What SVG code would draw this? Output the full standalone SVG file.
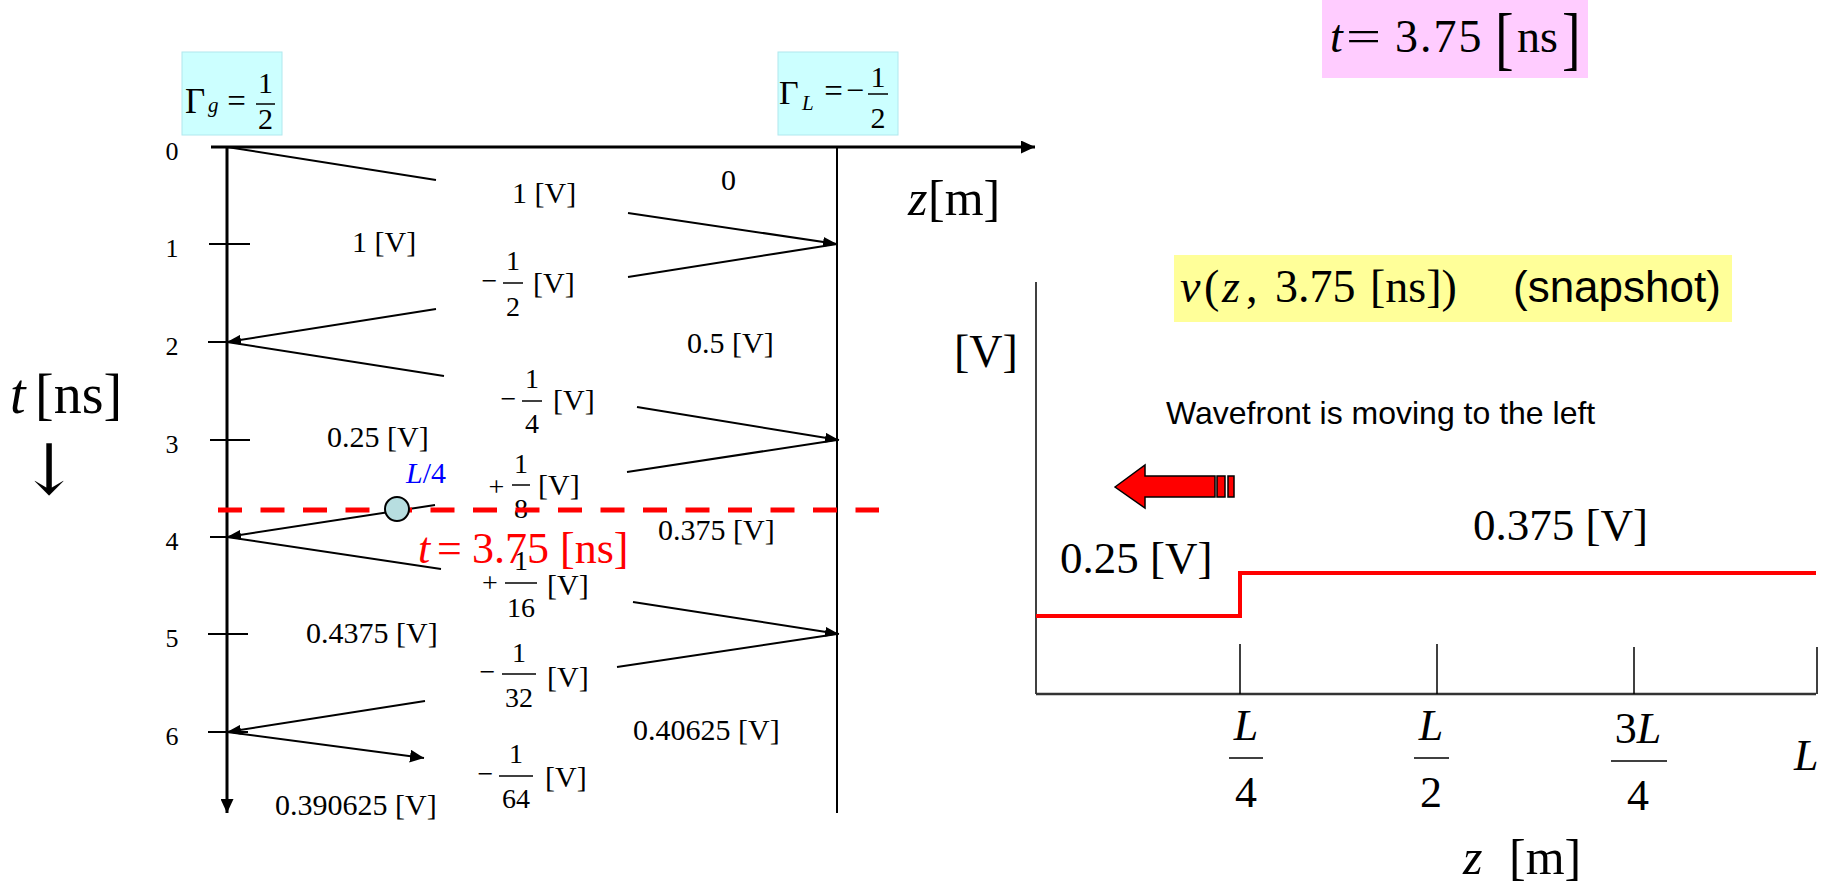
<svg xmlns="http://www.w3.org/2000/svg" width="1821" height="890" viewBox="0 0 1821 890">
<style>
.s{font-family:"Liberation Serif","Times New Roman",serif;fill:#000}
.i{font-style:italic}
.a{font-family:"Liberation Sans",Arial,sans-serif;fill:#000}
.v{font-size:30px}
.n{font-size:26px}
.f{font-size:28px}
.ln{stroke:#000;stroke-width:2;fill:none}
.ax{stroke:#000;stroke-width:3;fill:none}
.bar{stroke:#000;stroke-width:1.5}
</style>
<defs>
<marker id="arr" viewBox="0 0 14 10" refX="14" refY="5" markerWidth="14" markerHeight="10" markerUnits="userSpaceOnUse" orient="auto"><path d="M0,0 L14,5 L0,10 z" fill="#000"/></marker>
<marker id="arrB" viewBox="0 0 14 13" refX="14" refY="6.5" markerWidth="14" markerHeight="13" markerUnits="userSpaceOnUse" orient="auto"><path d="M0,0 L14,6.5 L0,13 z" fill="#000"/></marker>
</defs>
<rect width="1821" height="890" fill="#fff"/>

<!-- Bounce diagram axes -->
<g id="axes">
<line class="ax" x1="211" y1="147" x2="1035" y2="147" marker-end="url(#arrB)"/>
<line class="ax" x1="227" y1="147" x2="227" y2="813" marker-end="url(#arrB)"/>
<line class="ln" x1="837" y1="147" x2="837" y2="813"/>
<g class="ln">
<line x1="209" y1="244" x2="250" y2="244"/>
<line x1="208" y1="342" x2="240" y2="342"/>
<line x1="210" y1="440" x2="250" y2="440"/>
<line x1="210" y1="537" x2="240" y2="537"/>
<line x1="208" y1="634" x2="248" y2="634"/>
<line x1="208" y1="732" x2="248" y2="732"/>
</g>
<g class="s n" text-anchor="middle">
<text x="172" y="160">0</text>
<text x="172" y="257">1</text>
<text x="172" y="355">2</text>
<text x="172" y="453">3</text>
<text x="172" y="550">4</text>
<text x="172" y="647">5</text>
<text x="172" y="745">6</text>
</g>
</g>

<g id="gamma-g">
<rect x="182" y="52" width="100" height="83" fill="#CCFFFF" stroke="#B0E8EE" stroke-width="1"/>
<text class="s" x="185" y="113" font-size="35">Γ</text>
<text class="s i" x="208" y="112" font-size="21">g</text>
<text class="s" x="236.5" y="112" font-size="33" text-anchor="middle">=</text>
<line class="bar" x1="256" y1="104" x2="275" y2="104"/>
<text class="s" x="265.5" y="93" font-size="30" text-anchor="middle">1</text>
<text class="s" x="265.5" y="129" font-size="30" text-anchor="middle">2</text>
</g>

<g id="gamma-L">
<rect x="778" y="52" width="120" height="83" fill="#CCFFFF" stroke="#B0E8EE" stroke-width="1"/>
<text class="s" x="779" y="104" font-size="34">Γ</text>
<text class="s i" x="802" y="110" font-size="21">L</text>
<text class="s" x="833.5" y="102" font-size="33" text-anchor="middle">=</text>
<text class="s" x="855" y="101" font-size="32" text-anchor="middle">−</text>
<line class="bar" x1="868" y1="94" x2="888" y2="94"/>
<text class="s" x="878" y="87" font-size="30" text-anchor="middle">1</text>
<text class="s" x="878" y="128" font-size="30" text-anchor="middle">2</text>
</g>

<g id="axis-labels">
<text class="s" y="215" font-size="50"><tspan class="i" x="908">z</tspan><tspan x="928">[m]</tspan></text>
<text class="s" y="413" font-size="56"><tspan class="i" x="10">t</tspan><tspan x="35">[ns]</tspan></text>
<text x="49" y="494" font-size="70" text-anchor="middle" style="font-family:'DejaVu Serif','Liberation Serif',serif;fill:#000">↓</text>
</g>

<g id="connectors">
<line class="ln" x1="227" y1="147" x2="436" y2="180"/>
<line class="ln" x1="628" y1="213" x2="837" y2="244" marker-end="url(#arr)"/>
<line class="ln" x1="837" y1="244" x2="628" y2="277"/>
<line class="ln" x1="436" y1="309" x2="227" y2="342" marker-end="url(#arr)"/>
<line class="ln" x1="227" y1="342" x2="444" y2="376"/>
<line class="ln" x1="637" y1="407" x2="839" y2="440" marker-end="url(#arr)"/>
<line class="ln" x1="837" y1="440" x2="627" y2="472"/>
<line class="ln" x1="435" y1="505" x2="227" y2="537" marker-end="url(#arr)"/>
<line class="ln" x1="227" y1="537" x2="441" y2="569"/>
<line class="ln" x1="633" y1="602" x2="839" y2="634" marker-end="url(#arr)"/>
<line class="ln" x1="837" y1="634" x2="617" y2="667"/>
<line class="ln" x1="425" y1="701" x2="227" y2="732" marker-end="url(#arr)"/>
<line class="ln" x1="227" y1="732" x2="424" y2="758" marker-end="url(#arrB)"/>
</g>

<g id="values" class="s v">
<text x="512" y="203">1 [V]</text>
<text x="721" y="190">0</text>
<text x="352" y="252">1 [V]</text>
<text x="687" y="353">0.5 [V]</text>
<text x="327" y="447">0.25 [V]</text>
<text x="658" y="540">0.375 [V]</text>
<text x="306" y="643">0.4375 [V]</text>
<text x="633" y="740">0.40625 [V]</text>
<text x="275" y="815">0.390625 [V]</text>
</g>

<g id="fractions" class="s">
<g id="f1">
<text class="f" x="489.5" y="290" text-anchor="middle">−</text>
<line class="bar" x1="503" y1="283" x2="523" y2="283"/>
<text class="f" x="513" y="270" text-anchor="middle">1</text>
<text class="f" x="513" y="316" text-anchor="middle">2</text>
<text class="v" x="533" y="293">[V]</text>
</g>
<g id="f2">
<text class="f" x="508.5" y="408" text-anchor="middle">−</text>
<line class="bar" x1="522" y1="401" x2="542" y2="401"/>
<text class="f" x="532" y="388" text-anchor="middle">1</text>
<text class="f" x="532" y="433" text-anchor="middle">4</text>
<text class="v" x="553" y="410">[V]</text>
</g>
<g id="f3">
<text class="f" x="496.5" y="496" text-anchor="middle">+</text>
<line class="bar" x1="512" y1="485" x2="530" y2="485"/>
<text class="f" x="521" y="473" text-anchor="middle">1</text>
<text class="f" x="521" y="518" text-anchor="middle">8</text>
<text class="v" x="538" y="495">[V]</text>
</g>
<g id="f4">
<text class="f" x="490" y="592" text-anchor="middle">+</text>
<line class="bar" x1="505" y1="583" x2="537" y2="583"/>
<text class="f" x="521" y="570" text-anchor="middle">1</text>
<text class="f" x="521" y="617" text-anchor="middle">16</text>
<text class="v" x="547" y="595">[V]</text>
</g>
<g id="f5">
<text class="f" x="487.5" y="681" text-anchor="middle">−</text>
<line class="bar" x1="502" y1="674" x2="536" y2="674"/>
<text class="f" x="519" y="662" text-anchor="middle">1</text>
<text class="f" x="519" y="707" text-anchor="middle">32</text>
<text class="v" x="547" y="687">[V]</text>
</g>
<g id="f6">
<text class="f" x="485.5" y="783" text-anchor="middle">−</text>
<line class="bar" x1="499" y1="776" x2="533" y2="776"/>
<text class="f" x="516" y="763" text-anchor="middle">1</text>
<text class="f" x="516" y="808" text-anchor="middle">64</text>
<text class="v" x="545" y="787">[V]</text>
</g>
</g>

<g id="snapshot-line">
<line x1="218" y1="510" x2="879" y2="510" stroke="#FF0000" stroke-width="5" stroke-dasharray="24 18.5"/>
<circle cx="397" cy="509" r="12" fill="#B7DEE0" stroke="#000" stroke-width="2"/>
<text class="s" y="483" font-size="30" style="fill:#0000FF"><tspan class="i" x="406">L</tspan><tspan>/4</tspan></text>
<text class="s" y="563" font-size="44" style="fill:#FF0000"><tspan class="i" x="418">t</tspan><tspan x="437">=</tspan><tspan x="472">3.75</tspan><tspan x="560">[ns]</tspan></text>
</g>

<g id="time-box">
<rect x="1322" y="0" width="266" height="78" fill="#FFCCFF"/>
<text class="s" y="52" font-size="46"><tspan class="i" x="1330">t</tspan><tspan x="1395" letter-spacing="2">3.75</tspan><tspan x="1517">ns</tspan></text>
<text class="s" transform="translate(1346,52) scale(1.35,1)" font-size="46">=</text>
<text class="s" transform="translate(1495,62) scale(1,1.25)" font-size="56">[</text>
<text class="s" transform="translate(1562,62) scale(1,1.25)" font-size="56">]</text>
</g>

<g id="title-box">
<rect x="1174" y="255" width="558" height="67" fill="#FFFF99"/>
<text class="s" y="302" font-size="46"><tspan class="i" x="1180">v</tspan><tspan x="1204">(</tspan><tspan class="i" x="1222">z</tspan><tspan x="1246">,</tspan><tspan x="1275">3.75</tspan><tspan x="1370">[ns])</tspan></text>
<text class="a" x="1513" y="302" font-size="44">(snapshot)</text>
</g>

<g id="graph">
<line x1="1036" y1="282" x2="1036" y2="694" stroke="#000" stroke-width="1.5"/>
<line x1="1036" y1="694" x2="1816" y2="694" stroke="#333" stroke-width="2.5"/>
<g stroke="#000" stroke-width="1.5">
<line x1="1240" y1="644" x2="1240" y2="694"/>
<line x1="1437" y1="644" x2="1437" y2="694"/>
<line x1="1634" y1="647" x2="1634" y2="694"/>
<line x1="1817" y1="647" x2="1817" y2="694"/>
</g>
<polyline points="1036,616 1240,616 1240,573 1816,573" fill="none" stroke="#FF0000" stroke-width="4"/>
<text class="s" x="954" y="367" font-size="46">[V]</text>
<text class="s" x="1473" y="540" font-size="45">0.375 [V]</text>
<text class="s" x="1060" y="573" font-size="45">0.25 [V]</text>
<text class="a" x="1166" y="424" font-size="32">Wavefront is moving to the left</text>
<g id="wave-arrow" fill="#FF0000" stroke="#000" stroke-width="1.5">
<polygon points="1115,487 1145,465 1145,476 1215,476 1215,497 1145,497 1145,508"/>
<rect x="1217" y="476" width="8" height="21"/>
<rect x="1228" y="476" width="6" height="21"/>
</g>
<g class="s" font-size="44" text-anchor="middle">
<text class="i" x="1246" y="740">L</text>
<text x="1246" y="807">4</text>
<text class="i" x="1431" y="740">L</text>
<text x="1431" y="807">2</text>
<text x="1638" y="743">3<tspan class="i">L</tspan></text>
<text x="1638" y="810">4</text>
</g>
<line class="bar" x1="1229" y1="758" x2="1263" y2="758" stroke-width="2"/>
<line class="bar" x1="1414" y1="758" x2="1449" y2="758" stroke-width="2"/>
<line class="bar" x1="1611" y1="761" x2="1667" y2="761" stroke-width="2"/>
<text class="s i" x="1794" y="770" font-size="44">L</text>
<text class="s" y="874" font-size="50"><tspan class="i" x="1463">z</tspan><tspan x="1509">[m]</tspan></text>
</g>
</svg>
